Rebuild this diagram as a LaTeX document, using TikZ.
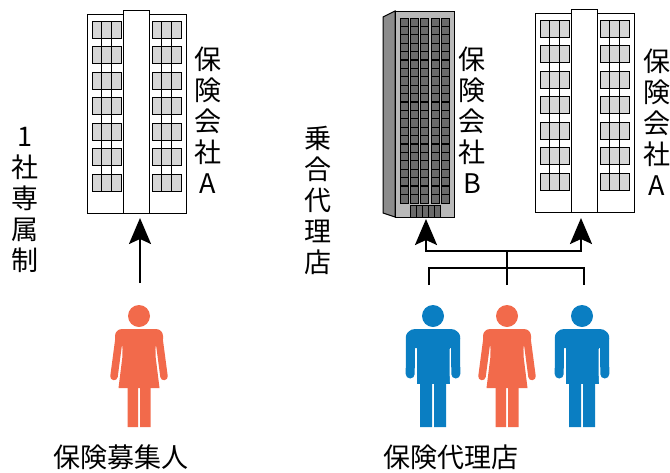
\documentclass[tikz,border=0pt]{standalone}
\usepackage{fontspec}
\setmainfont{Noto Sans CJK JP}
\usetikzlibrary{arrows.meta}
\definecolor{femcol}{HTML}{F26A4B}
\definecolor{malecol}{HTML}{0A7EC2}
\definecolor{wingray}{HTML}{D6D6D6}
\definecolor{facegray}{HTML}{B9B9B9}
\definecolor{sidegray}{HTML}{8C8C8C}
\definecolor{colgray}{HTML}{6A6A6A}
\begin{document}
\begin{tikzpicture}[x=1pt,y=-1pt,
  outline/.style={draw=black, line width=1pt},
  vlabel/.style={font=\fontsize{27}{31}\selectfont, align=center, inner sep=0pt},
  hlabel/.style={font=\fontsize{27}{31}\selectfont, inner sep=0pt},
  link/.style={line width=2.4pt, line join=miter},
  uparrow/.style={-{Stealth[length=26pt,width=22pt,inset=5pt]}},
  % block of 7 office windows, three panes each
  windowgrid/.pic={
    \foreach \k in {0,...,6}
      \filldraw[fill=wingray, draw=black, line width=0.8pt] (0,\k*25.5) rectangle (29,\k*25.5+17);
    \draw[line width=0.6pt] (9.67,0) -- (9.67,170) (19.33,0) -- (19.33,170);
  },
  % low-rise office with a central stair column
  officeA/.pic={
    \filldraw[fill=white, outline] (0,0) rectangle (99,199);
    \filldraw[fill=white, outline] (36,-4) rectangle (62,199);
    \pic at (5,7) {windowgrid};
    \pic at (65,7) {windowgrid};
  },
  % high-rise tower seen slightly from the left
  tower/.pic={
    \filldraw[fill=sidegray, outline] (-12,6) -- (0,0) -- (0,206) -- (-12,202) -- cycle;
    \filldraw[fill=facegray, outline] (0,0) rectangle (59,206);
    \foreach \c in {5,15,25,36,46}{
      \filldraw[fill=colgray, draw=black, line width=0.6pt] (\c,7) rectangle (\c+8,192);
      \foreach \r in {1,...,21}
        \draw[line width=1.1pt] (\c,7+\r*8.4) -- (\c+8,7+\r*8.4);
    }
    \filldraw[fill=colgray, outline] (15,194) rectangle (45,206);
    \foreach \d in {21,27,33,39} \draw[line width=0.6pt] (\d,194) -- (\d,206);
  },
  % pictogram figures, origin at the head centre
  man/.pic={
    \fill (0,0) circle (11);
    \fill[rounded corners=9pt] (-27,13) rectangle (27,32);
    \fill (-16.5,20) rectangle (16.5,68);
    \draw[white, line width=12pt] (-22.5,33) -- (-22.8,66) (22.5,33) -- (22.8,66);
    \draw[line width=9pt, line cap=round] (-22.5,20) -- (-22.8,58) (22.5,20) -- (22.8,58);
    \fill (-13,66) rectangle (-1,111) (1,66) rectangle (13,111);
  },
  woman/.pic={
    \fill (0,0) circle (11);
    \fill[rounded corners=7pt] (-24,13) rectangle (24,30);
    \fill (-17,20) -- (17,20) -- (16.5,40) -- (20.5,72) -- (-20.5,72) -- (-16.5,40) -- cycle;
    \draw[white, line width=9.5pt] (-21.3,32) -- (-25.3,66) (21.3,32) -- (25.3,66);
    \draw[line width=7.5pt, line cap=round] (-19.5,19) -- (-25,60.5) (19.5,19) -- (25,60.5);
    \fill (-11.5,70) rectangle (-1,111) (1,70) rectangle (11.5,111);
  }
]
\useasboundingbox (0,0) rectangle (670,472);

% buildings
\pic at (87,14) {officeA};
\pic at (395,11) {tower};
\pic at (535,13) {officeA};

% people (head centres)
\coordinate (recruiter) at (139,316);
\coordinate (agentL) at (433,316);
\coordinate (agentM) at (507,316);
\coordinate (agentR) at (582,316);
\pic[color=femcol] at (recruiter) {woman};
\pic[color=malecol] at (agentL) {man};
\pic[color=femcol] at (agentM) {woman};
\pic[color=malecol] at (agentR) {man};

% labels
\node[vlabel] (compA1) at (208,120) {保\\険\\会\\社\\A};
\node[vlabel] (compB) at (472,120) {保\\険\\会\\社\\B};
\node[vlabel] (compA2) at (657,122) {保\\険\\会\\社\\A};
\node[vlabel] (exclusive) at (25,200) {1\\社\\専\\属\\制};
\node[vlabel] (multi) at (318,200) {乗\\合\\代\\理\\店};
\node[hlabel] (recruitLbl) at (121,457) {保険募集人};
\node[hlabel] (agencyLbl) at (451,457) {保険代理店};

% connector points
\coordinate (recTop) at (140,283);
\coordinate (doorA1) at (140,218);
\coordinate (doorB) at (426,219);
\coordinate (doorA2) at (581,218);
\coordinate (turnB) at (426,251);
\coordinate (turnA2) at (581,251);
\coordinate (hubUp) at (507,251);
\coordinate (hubLow) at (507,268);
\coordinate (barL) at (429,268);
\coordinate (barR) at (584,268);
\coordinate (footL) at (429,285);
\coordinate (footM) at (507,285);
\coordinate (footR) at (584,285);

% exclusive agent: single arrow
\draw[line width=2pt, uparrow] (recTop) -- (doorA1);

% multi-company agency: joined group feeding both companies
\draw[link] (footL) -- (barL) -- (barR) -- (footR);
\draw[link] (footM) -- (hubUp);
\draw[link, uparrow] (hubUp) -- (turnB) -- (doorB);
\draw[link, uparrow] (hubUp) -- (turnA2) -- (doorA2);
\end{tikzpicture}
\end{document}
